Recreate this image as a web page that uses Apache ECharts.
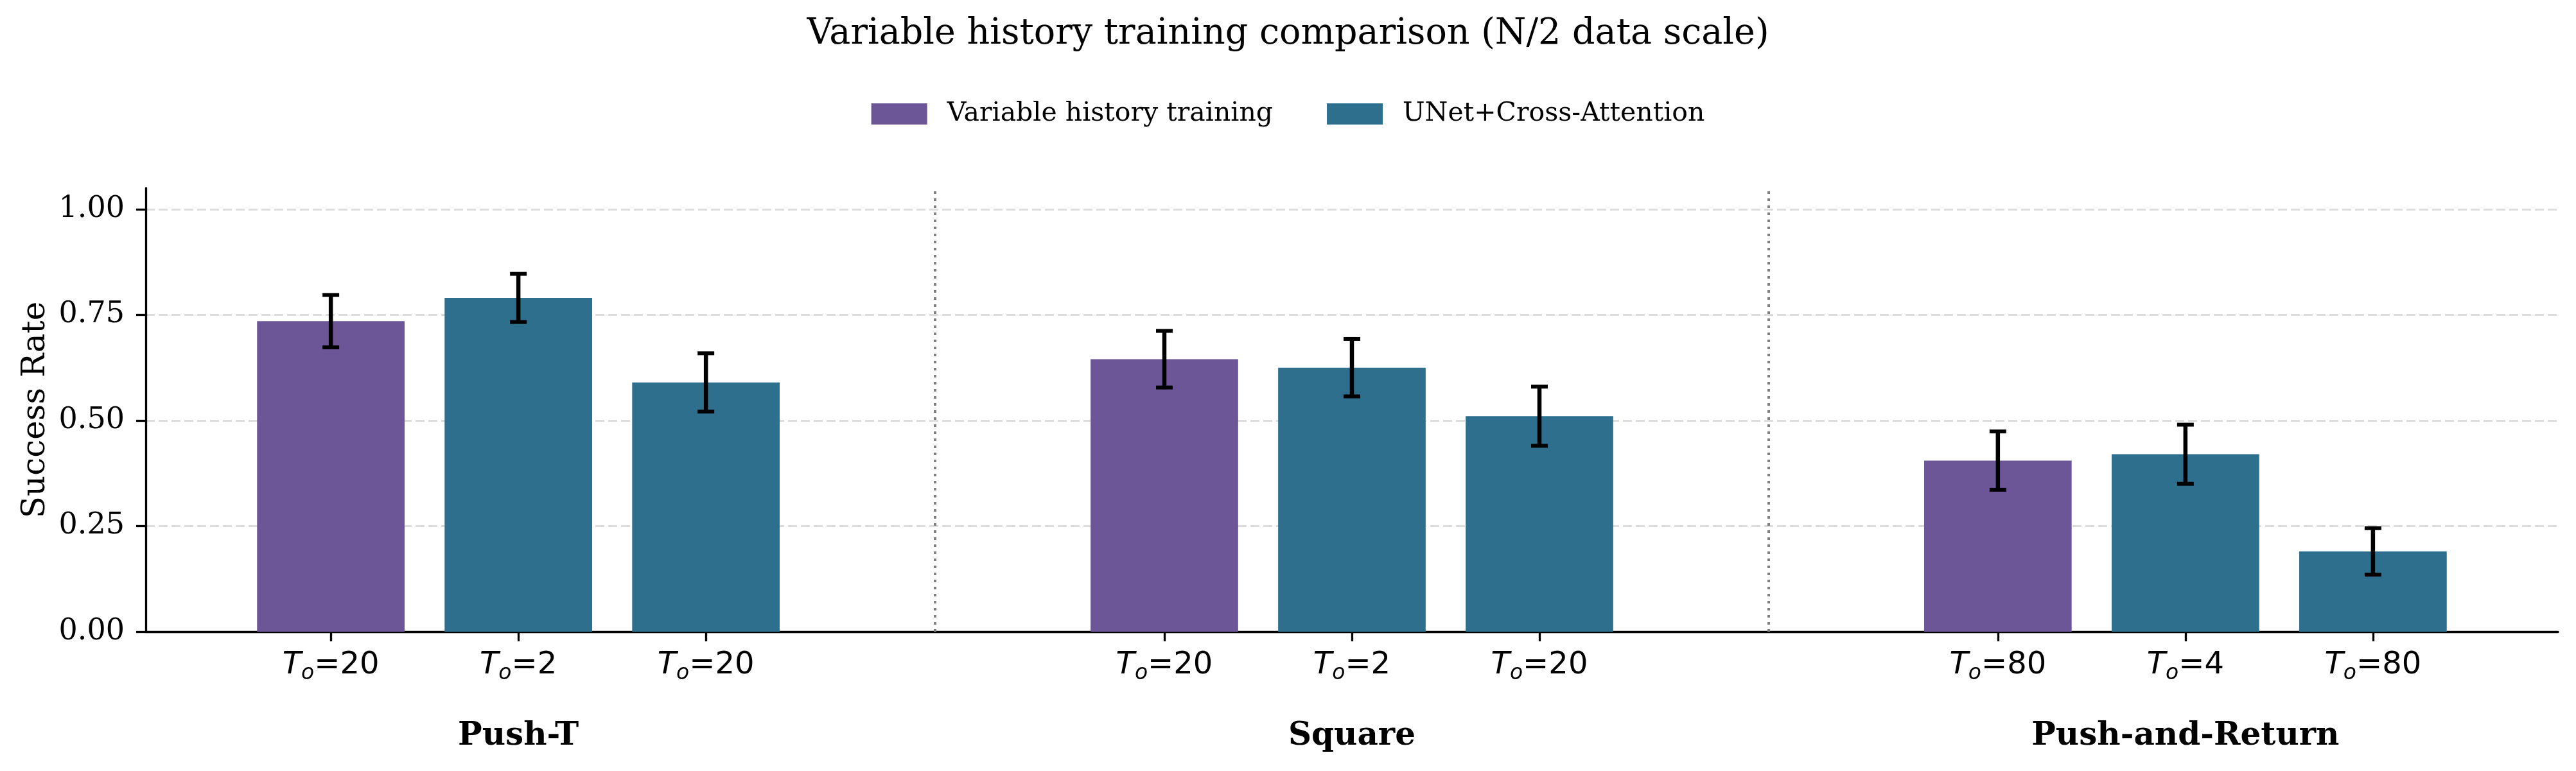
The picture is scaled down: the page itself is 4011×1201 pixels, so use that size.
<!DOCTYPE html>
<html><head><meta charset="utf-8">
<script src="https://cdn.jsdelivr.net/npm/echarts@6/dist/echarts.min.js"></script>
<style>html,body{margin:0;padding:0;background:#fff}#c{width:4011px;height:1201px}</style>
</head><body><div id="c"></div>
<script>
// ---------- data ----------
const titleText = 'Variable history training comparison (N/2 data scale)';
const yAxisName = 'Success Rate';
const groups = ['Push-T', 'Square', 'Push-and-Return'];
const seriesNames = ['Variable history training', 'UNet+Cross-Attention'];
// T_o value of the three bars in each group: [variable history, UNet short, UNet long]
const historyLabels = [['20', '2', '20'], ['20', '2', '20'], ['80', '4', '80']];
const variableRate = [0.735, 0.645, 0.405];
const variableErr = [0.062, 0.067, 0.069];
const unetShortRate = [0.79, 0.625, 0.42];
const unetShortErr = [0.057, 0.068, 0.070];
const unetLongRate = [0.59, 0.51, 0.19];
const unetLongErr = [0.069, 0.070, 0.055];
const yTicks = [0, 0.25, 0.5, 0.75, 1.0];
const yMax = 1.05;

// ---------- layout (data units on x axis: one group = 1) ----------
const BAR_STEP = 0.225;
const BAR_W = 0.177;
const X_MIN = -0.447, X_MAX = 2.447;
const barX = (g, k) => g + (k - 1) * BAR_STEP;

const tickPositions = [];
const tickTexts = [];
groups.forEach((_, g) => {
  for (let k = 0; k < 3; k++) {
    tickPositions.push(+barX(g, k).toFixed(4));
    tickTexts.push(historyLabels[g][k]);
  }
});
const groupPositions = groups.map((_, g) => g);

const variableData = groups.map((_, g) => [barX(g, 0), variableRate[g], variableErr[g]]);
const unetData = [];
groups.forEach((_, g) => {
  unetData.push([barX(g, 1), unetShortRate[g], unetShortErr[g]]);
  unetData.push([barX(g, 2), unetLongRate[g], unetLongErr[g]]);
});

const COLORS = ['#6C5697', '#2F6F8E'];
const SERIF = 'DejaVu Serif';
const SANS = 'DejaVu Sans';

function renderBar(params, api) {
  const x = api.value(0), y = api.value(1), e = api.value(2);
  const base = api.coord([x, 0]);
  const top = api.coord([x, y]);
  const w = api.size([BAR_W, 0])[0];
  const hi = api.coord([x, y + e]);
  const lo = api.coord([x, y - e]);
  const cap = 13;
  return {
    type: 'group',
    children: [
      { type: 'rect', shape: { x: base[0] - w / 2, y: top[1], width: w, height: base[1] - top[1] },
        style: { fill: api.visual('color') } },
      { type: 'line', shape: { x1: hi[0], y1: hi[1], x2: lo[0], y2: lo[1] },
        style: { stroke: '#000', lineWidth: 6.5 } },
      { type: 'line', shape: { x1: hi[0] - cap, y1: hi[1], x2: hi[0] + cap, y2: hi[1] },
        style: { stroke: '#000', lineWidth: 6 } },
      { type: 'line', shape: { x1: lo[0] - cap, y1: lo[1], x2: lo[0] + cap, y2: lo[1] },
        style: { stroke: '#000', lineWidth: 6 } }
    ]
  };
}

function nearestIndex(arr, v) {
  let best = 0;
  for (let i = 1; i < arr.length; i++) if (Math.abs(arr[i] - v) < Math.abs(arr[best] - v)) best = i;
  return best;
}

const chart = echarts.init(document.getElementById('c'), null, { renderer: 'canvas' });
chart.setOption({
  backgroundColor: '#fff',
  animation: false,
  title: {
    text: titleText, left: 'center', top: 26, padding: 0,
    textStyle: { fontFamily: SERIF, fontSize: 55.5, fontWeight: 'normal', color: '#000' }
  },
  legend: {
    data: seriesNames, top: 152, left: 'center', icon: 'rect',
    itemWidth: 87, itemHeight: 33, itemGap: 84,
    textStyle: { fontFamily: SERIF, fontSize: 41, color: '#000', padding: [0, 0, 0, 26] }
  },
  grid: { left: 227, right: 28, top: 293, bottom: 217, containLabel: false },
  xAxis: [{
    type: 'value', min: X_MIN, max: X_MAX,
    axisLine: { show: true, onZero: false, lineStyle: { color: '#000', width: 3.3 } },
    axisTick: { show: true, customValues: tickPositions, length: 15, lineStyle: { color: '#000', width: 3.3 } },
    axisLabel: {
      customValues: tickPositions, margin: 24,
      formatter: v => '{t|T}{s|o}{n|=' + tickTexts[nearestIndex(tickPositions, v)] + '}',
      rich: {
        t: { fontFamily: SANS, fontStyle: 'italic', fontSize: 48, color: '#000', lineHeight: 58 },
        s: { fontFamily: SANS, fontStyle: 'italic', fontSize: 33, color: '#000', lineHeight: 31, verticalAlign: 'bottom' },
        n: { fontFamily: SANS, fontSize: 48, color: '#000', lineHeight: 58 }
      }
    },
    splitLine: { show: false }
  }, {
    type: 'value', min: X_MIN, max: X_MAX, position: 'bottom',
    axisLine: { show: false, onZero: false }, axisTick: { show: false }, splitLine: { show: false },
    axisLabel: {
      customValues: groupPositions, margin: 138,
      formatter: v => groups[nearestIndex(groupPositions, v)],
      fontFamily: SERIF, fontWeight: 'bold', fontSize: 50, color: '#000'
    }
  }],
  yAxis: {
    type: 'value', min: 0, max: yMax, interval: 0.25,
    name: yAxisName, nameLocation: 'middle', nameRotate: 90, nameGap: 146,
    nameTextStyle: { fontFamily: SERIF, fontSize: 50, color: '#000' },
    axisLine: { show: true, onZero: false, lineStyle: { color: '#000', width: 3.3 } },
    axisTick: { show: true, customValues: yTicks, length: 15, lineStyle: { color: '#000', width: 3.3 } },
    axisLabel: {
      customValues: yTicks, margin: 33, formatter: v => v.toFixed(2),
      fontFamily: SERIF, fontSize: 46, color: '#000'
    },
    splitLine: { show: true, lineStyle: { color: '#dcdcdc', width: 3, type: [14, 6] } }
  },
  series: [{
    name: seriesNames[0], type: 'custom', xAxisIndex: 0, renderItem: renderBar,
    itemStyle: { color: COLORS[0] }, encode: { x: 0, y: 1 }, data: variableData,
    markLine: {
      silent: true, symbol: ['none', 'none'], label: { show: false },
      lineStyle: { color: '#808080', width: 4, type: [4, 7] },
      data: [{ xAxis: 0.5 }, { xAxis: 1.5 }]
    }
  }, {
    name: seriesNames[1], type: 'custom', xAxisIndex: 0, renderItem: renderBar,
    itemStyle: { color: COLORS[1] }, encode: { x: 0, y: 1 }, data: unetData
  }]
});
</script></body></html>
